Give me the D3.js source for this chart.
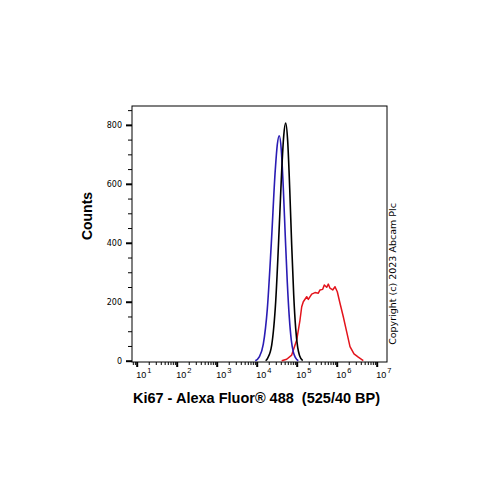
<!DOCTYPE html>
<html><head><meta charset="utf-8">
<script src="https://cdn.jsdelivr.net/npm/d3@7"></script>
<style>body{margin:0;background:#fff}svg{display:block}</style>
</head><body>
<svg id="c" width="500" height="500"></svg>
<script>
// Data (fluorescence intensity, counts)
const blueX = [9226, 11610, 14620, 18410, 23170, 29170, 32730, 36730, 41210, 46240, 51880, 58210, 65310, 73280, 82220, 92260, 109600];
const blueY = [0, 13, 56, 175, 397, 648, 733, 763, 714, 586, 420, 265, 147, 70, 30, 11, 0];
const blackX = [16790, 18840, 23710, 29850, 37580, 42170, 47320, 53090, 59570, 66830, 74990, 84140, 94410, 105900, 118900, 141300];
const blackY = [0, 9, 53, 201, 489, 645, 762, 806, 744, 585, 392, 224, 109, 45, 16, 0];
const redX = [42170, 56230, 74990, 100000, 120900, 133400, 146200, 177800, 195000, 237100, 286800, 346700, 382400, 446700, 489800, 562300, 616600, 680000, 794300, 907100, 1035000, 1209000, 1462000, 1778000, 2150000, 2707000, 3467000, 4624000];
const redY = [0, 5, 19, 70, 138, 183, 200, 217, 208, 226, 231, 229, 240, 242, 257, 249, 260, 246, 240, 251, 234, 195, 149, 98, 48, 23, 12, 0];
const yTicks = [0, 200, 400, 600, 800];
const yMinor = [50, 100, 150, 250, 300, 350, 450, 500, 550, 650, 700, 750, 850];
const xDecades = [1, 2, 3, 4, 5, 6, 7];
const xTitle = "Ki67 - Alexa Fluor\u00AE 488  (525/40 BP)";
const yTitle = "Counts";
const copyright = "Copyright (c) 2023 Abcam Plc";

const svg = d3.select("#c");
const L = 132, R = 387, T = 106, B = 362;
const x = d3.scaleLog().domain([Math.pow(10, 0.8825), Math.pow(10, 7.2575)]).range([L, R]);
const y = d3.scaleLinear().domain([0, 864]).range([360.7, T]);

// frame
svg.append("rect").attr("x", L).attr("y", T).attr("width", R - L).attr("height", B - T)
  .attr("fill", "none").attr("stroke", "#000").attr("stroke-width", 1);

// y axis ticks
const yMaj = svg.append("g").attr("transform", `translate(${L},0)`)
  .call(d3.axisLeft(y).tickValues(yTicks).tickSize(6).tickPadding(4).tickFormat(d3.format("d")));
yMaj.select(".domain").remove();
yMaj.selectAll("line").attr("stroke-width", 2);
yMaj.selectAll("text").attr("font-family", "DejaVu Sans").attr("font-size", 8).attr("fill", "#000");
const yMin = svg.append("g").attr("transform", `translate(${L},0)`)
  .call(d3.axisLeft(y).tickValues(yMinor).tickSize(4).tickFormat(""));
yMin.select(".domain").remove();

// x axis ticks
const majorVals = xDecades.map(d => Math.pow(10, d));
const minorVals = [];
for (let e = 0; e <= 7; e++) for (let k = 2; k <= 9; k++) {
  const v = k * Math.pow(10, e);
  if (v >= x.domain()[0] && v <= x.domain()[1]) minorVals.push(v);
}
const xMaj = svg.append("g").attr("transform", `translate(0,${B})`)
  .call(d3.axisBottom(x).tickValues(majorVals).tickSize(5).tickFormat(""));
xMaj.select(".domain").remove();
xMaj.selectAll("line").attr("stroke-width", 2);
const xMin = svg.append("g").attr("transform", `translate(0,${B})`)
  .call(d3.axisBottom(x).tickValues(minorVals).tickSize(3).tickFormat(""));
xMin.select(".domain").remove();

// x tick labels 10^n
const xl = svg.append("g");
xDecades.forEach(d => {
  const t = xl.append("text").attr("x", x(Math.pow(10, d)) - 0.5).attr("y", 378)
    .attr("font-family", "Liberation Sans Narrow, Liberation Sans, Arial, sans-serif")
    .attr("font-size", 9).attr("fill", "#000");
  t.append("tspan").text("10");
  t.append("tspan").attr("dx", 1).attr("dy", -5).attr("font-size", 7.5).text(d);
});

// curves
const lineM = d3.line().x(d => x(d[0])).y(d => y(d[1])).curve(d3.curveMonotoneX);
const lineL = d3.line().x(d => x(d[0])).y(d => y(d[1]));
svg.append("path").datum(d3.zip(redX, redY)).attr("d", lineL)
  .attr("fill", "none").attr("stroke", "#e3141c").attr("stroke-width", 1.5).attr("stroke-linejoin", "round");
svg.append("path").datum(d3.zip(blueX, blueY)).attr("d", lineM)
  .attr("fill", "none").attr("stroke", "#2a1cb4").attr("stroke-width", 1.6);
svg.append("path").datum(d3.zip(blackX, blackY)).attr("d", lineM)
  .attr("fill", "none").attr("stroke", "#000").attr("stroke-width", 1.6);

// titles
svg.append("text").attr("x", 256.5).attr("y", 403).attr("text-anchor", "middle")
  .attr("font-family", "Liberation Sans, Arial, sans-serif").attr("font-weight", "bold")
  .attr("font-size", 14.5).style("white-space", "pre").attr("fill", "#000").text(xTitle);
svg.append("text").attr("transform", "translate(91.5,216) rotate(-90)").attr("text-anchor", "middle")
  .attr("font-family", "Liberation Sans, Arial, sans-serif").attr("font-weight", "bold")
  .attr("font-size", 14).attr("fill", "#000").text(yTitle);
svg.append("text").attr("transform", "translate(395.5,274) rotate(-90)").attr("text-anchor", "middle")
  .attr("font-family", "DejaVu Sans, sans-serif").attr("font-size", 9.5).attr("fill", "#000").text(copyright);
</script>
</body></html>
